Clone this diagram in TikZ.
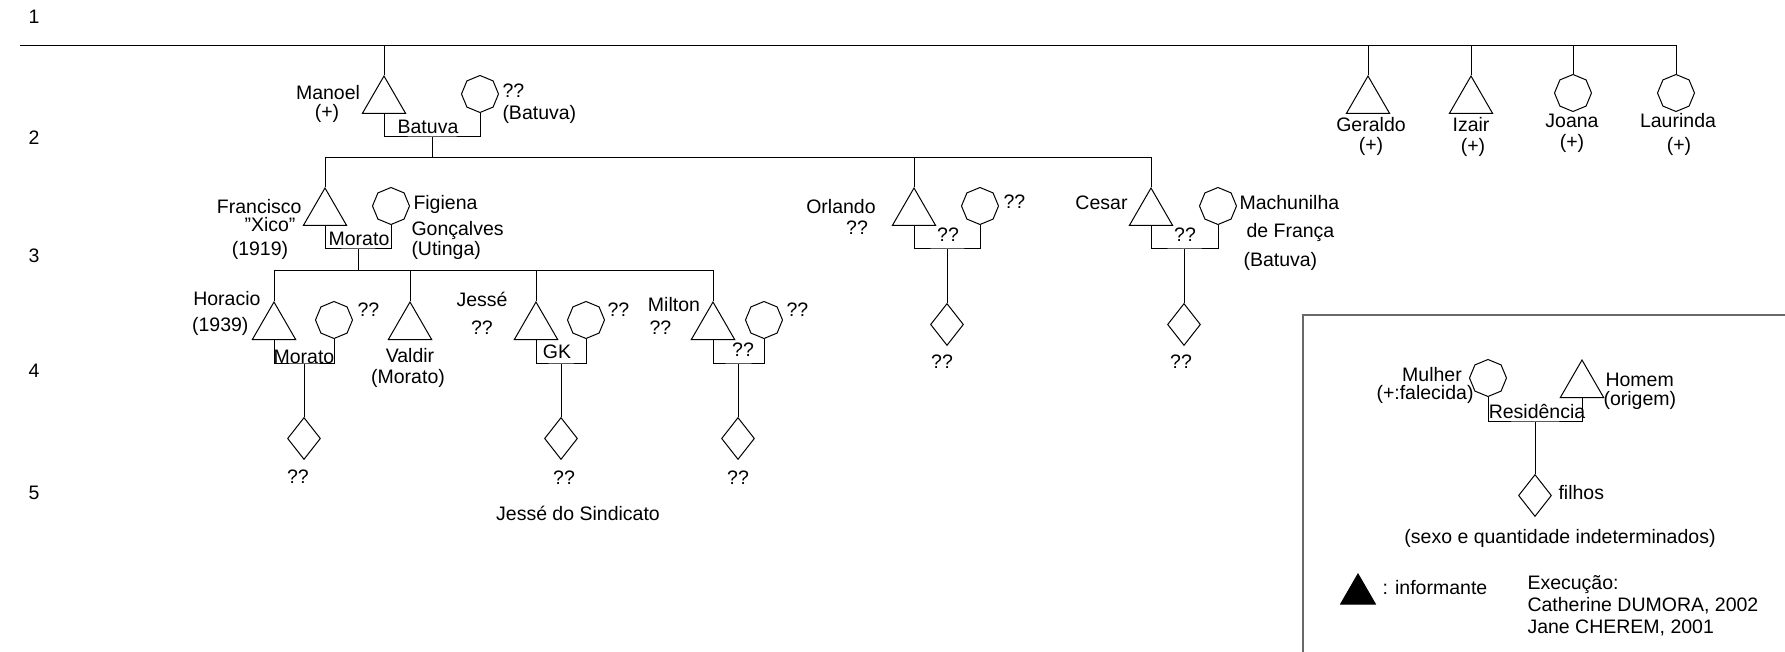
\documentclass[tikz,border=0pt]{standalone}
\usepackage{fontspec}
\setmainfont{Liberation Sans}
\usepackage{tikz}
\usetikzlibrary{shapes.geometric, positioning}
\definecolor{boxgray}{RGB}{105,105,105}
\tikzset{
  homem/.style={regular polygon, regular polygon sides=3, draw,
    minimum size=25pt, inner sep=0pt, anchor=north, line width=0.5pt},
  mulher/.style={regular polygon, regular polygon sides=8, shape border rotate=22.5,
    draw, minimum size=18.5pt, inner sep=0pt, line width=0.5pt},
  filhos/.style={diamond, draw, minimum width=16.5pt, minimum height=21pt,
    inner sep=0pt, anchor=north, line width=0.5pt},
  lbl/.style={inner sep=0pt, text height=7pt, text depth=0pt},
  boxline/.style={draw=boxgray, line width=0.9pt}
}

\begin{document}
\begin{tikzpicture}[x=0.5pt, y=-0.5pt, line width=0.5pt,
  font=\fontsize{9.75}{11}\selectfont]
  \useasboundingbox (0,0) rectangle (1785,652);

  % Generation numbers
  \node[lbl] (n1) at (34,17) {1};
  \node[lbl] (n2) at (34,138) {2};
  \node[lbl] (n3) at (34,256) {3};
  \node[lbl] (n4) at (34,371) {4};
  \node[lbl] (n5) at (34,493) {5};

  % Level 1
  \coordinate (g1) at (20,46);
  \node[homem] (manoel) at (384,75) {};
  \node[mulher] (mwife) at (480,94) {};
  \node[homem] (geraldo) at (1368,75) {};
  \node[homem] (izair) at (1471,75) {};
  \node[mulher] (joana) at (1573,93) {};
  \node[mulher] (laurinda) at (1676,93) {};

  \draw (g1) -- (g1 -| laurinda.north) -- (laurinda.north);
  \foreach \p in {manoel, geraldo, izair, joana}
    \draw (\p.north) -- (\p.north |- g1);

  \coordinate (mb) at (432,137);
  \draw (manoel.south) |- (mb) -| (mwife.south);

  \node[lbl] (manoelname) at (328,93) {Manoel};
  \node[lbl] (manoeldate) at (327,112) {(+)};
  \node[lbl, anchor=west] (mwname) at (502,91) {??};
  \node[lbl, anchor=west] (mworig) at (502,113) {(Batuva)};
  \node[lbl] (mres) at (428,127) {Batuva};

  \node[lbl] (geraldoname) at (1371,125) {Geraldo};
  \node[lbl] (geraldodate) at (1371,145) {(+)};
  \node[lbl] (izairname) at (1471,125) {Izair};
  \node[lbl] (izairdate) at (1473,146) {(+)};
  \node[lbl] (joananame) at (1572,121) {Joana};
  \node[lbl] (joanadate) at (1572,142) {(+)};
  \node[lbl] (laurindaname) at (1678,121) {Laurinda};
  \node[lbl] (laurindadate) at (1679,145) {(+)};

  % Level 2
  \coordinate (g2) at (0,158);
  \node[homem] (francisco) at (325,187) {};
  \node[mulher] (fwife) at (391,206) {};
  \node[homem] (orlando) at (914,187) {};
  \node[mulher] (owife) at (980,206) {};
  \node[homem] (cesar) at (1151,187) {};
  \node[mulher] (cwife) at (1218,206) {};

  \draw (francisco.north) |- (cesar.north |- g2) -- (cesar.north);
  \draw (orlando.north) -- (orlando.north |- g2);
  \draw (mb) -- (mb |- g2);

  \coordinate (fb) at (358,249);
  \draw (francisco.south) |- (fb) -| (fwife.south);
  \coordinate (ob) at (947,249);
  \draw (orlando.south) |- (ob) -| (owife.south);
  \node[filhos] (ofilhos) at (947,303) {};
  \draw (ob) -- (ofilhos.north);
  \coordinate (cb) at (1184,249);
  \draw (cesar.south) |- (cb) -| (cwife.south);
  \node[filhos] (cfilhos) at (1184,303) {};
  \draw (cb) -- (cfilhos.north);

  \node[lbl, anchor=east] (francisconame) at (302,207) {Francisco};
  \node[lbl] (franciscoxico) at (270,225) {"Xico"};
  \node[lbl] (franciscodate) at (260,249) {(1919)};
  \node[lbl] (fres) at (359,239) {Morato};
  \node[lbl, anchor=west] (fwname) at (413,203) {Figiena};
  \node[lbl, anchor=west] (fwname2) at (411,229) {Gonçalves};
  \node[lbl, anchor=west] (fworig) at (411,249) {(Utinga)};

  \node[lbl] (orlandoname) at (841,207) {Orlando};
  \node[lbl] (orlandoorig) at (857,228) {??};
  \node[lbl, anchor=west] (owname) at (1003,202) {??};
  \node[lbl] (ores) at (948,235) {??};
  \node[lbl] (ofilhoslbl) at (942,362) {??};

  \node[lbl, anchor=east] (cesarname) at (1128,203) {Cesar};
  \node[lbl, anchor=west] (cwname) at (1239,203) {Machunilha};
  \node[lbl, anchor=west] (cwname2) at (1246,231) {de França};
  \node[lbl, anchor=west] (cworig) at (1243,260) {(Batuva)};
  \node[lbl] (cres) at (1185,235) {??};
  \node[lbl] (cfilhoslbl) at (1181,362) {??};

  % Level 3
  \coordinate (g3) at (0,271);
  \node[homem] (horacio) at (274,301) {};
  \node[mulher] (hwife) at (334,320) {};
  \node[homem] (valdir) at (410,301) {};
  \node[homem] (jesse) at (536,301) {};
  \node[mulher] (jwife) at (586,320) {};
  \node[homem] (milton) at (713,301) {};
  \node[mulher] (miwife) at (764,320) {};

  \draw (horacio.north) |- (milton.north |- g3) -- (milton.north);
  \foreach \p in {valdir, jesse}
    \draw (\p.north) -- (\p.north |- g3);
  \draw (fb) -- (fb |- g3);

  \coordinate (hb) at (304,364);
  \draw (horacio.south) |- (hb) -| (hwife.south);
  \node[filhos] (hfilhos) at (304,417) {};
  \draw (hb) -- (hfilhos.north);
  \coordinate (jb) at (561,364);
  \draw (jesse.south) |- (jb) -| (jwife.south);
  \node[filhos] (jfilhos) at (561,417) {};
  \draw (jb) -- (jfilhos.north);
  \coordinate (mib) at (738,364);
  \draw (milton.south) |- (mib) -| (miwife.south);
  \node[filhos] (mifilhos) at (738,417) {};
  \draw (mib) -- (mifilhos.north);

  \node[lbl, anchor=east] (horacioname) at (261,299) {Horacio};
  \node[lbl, anchor=east] (horaciodate) at (249,325) {(1939)};
  \node[lbl, anchor=west] (hwname) at (357,310) {??};
  \node[lbl] (hres) at (304,357) {Morato};
  \node[lbl] (hfilhoslbl) at (298,477) {??};

  \node[lbl] (valdirname) at (410,356) {Valdir};
  \node[lbl] (valdirorig) at (408,377) {(Morato)};

  \node[lbl, anchor=west] (jessename) at (456,300) {Jessé};
  \node[lbl] (jesseorig) at (482,328) {??};
  \node[lbl, anchor=west] (jwname) at (607,310) {??};
  \node[lbl] (jres) at (557,352) {GK};
  \node[lbl] (jfilhoslbl) at (564,478) {??};
  \node[lbl] (jessenick) at (578,513) {Jessé do Sindicato};

  \node[lbl] (miltonname) at (674,305) {Milton};
  \node[lbl, anchor=west] (miltonorig) at (649,328) {??};
  \node[lbl, anchor=west] (miwname) at (786,310) {??};
  \node[lbl] (mires) at (743,350) {??};
  \node[lbl] (mifilhoslbl) at (738,478) {??};

  % Legend
  \draw[boxline] (1303,652) |- (1785,315);
  \node[mulher] (lmulher) at (1488,378) {};
  \node[homem] (lhomem) at (1582,359) {};
  \coordinate (lb) at (1535,422);
  \draw (lmulher.south) |- (lb) -| (lhomem.south);
  \node[filhos] (lfilhos) at (1535,474) {};
  \draw (lb) -- (lfilhos.north);
  \node[homem, fill=black, minimum size=20pt] (linformante) at (1358,573) {};

  \node[lbl] (lmulhername) at (1432,375) {Mulher};
  \node[lbl] (lmulherdate) at (1425,393) {(+:falecida)};
  \node[lbl, anchor=west] (lhomemname) at (1605,380) {Homem};
  \node[lbl, anchor=west] (lhomemorig) at (1603,399) {(origem)};
  \node[lbl] (lres) at (1537,412) {Residência};
  \node[lbl, anchor=west] (lfilhoslbl) at (1558,493) {filhos};
  \node[lbl] (lsexo) at (1560,537) {(sexo e quantidade indeterminados)};
  \node[lbl, anchor=west] (linflbl) at (1382,587) {: informante};
  \node[lbl, anchor=west] (lexec) at (1527,582) {Execução:};
  \node[lbl, anchor=west] (lexec2) at (1527,604) {Catherine DUMORA, 2002};
  \node[lbl, anchor=west] (lexec3) at (1527,626) {Jane CHEREM, 2001};
\end{tikzpicture}
\end{document}
